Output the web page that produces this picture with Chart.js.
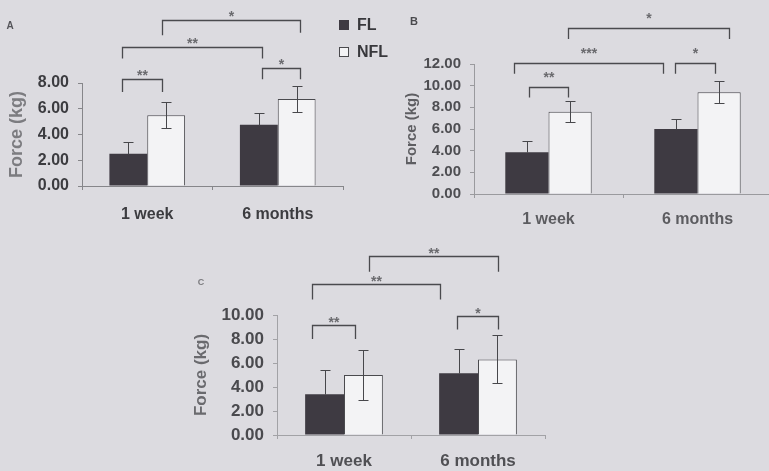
<!DOCTYPE html>
<html>
<head>
<meta charset="utf-8">
<script src="https://cdn.jsdelivr.net/npm/chart.js@4.4.1/dist/chart.umd.min.js"></script>
<style>
  html, body { margin: 0; padding: 0; overflow: hidden; background: #dcdbe0; }
  #wrap { position: relative; width: 769px; height: 471px; overflow: hidden; }
  canvas { position: absolute; }
</style>
</head>
<body>
<div id="wrap">
  <canvas id="chartA" width="410" height="240" style="left:0;top:0"></canvas>
  <canvas id="chartB" width="400" height="240" style="left:380px;top:0"></canvas>
  <canvas id="chartC" width="380" height="231" style="left:180px;top:240px"></canvas>
</div>
<script>
const groups = ['1 week', '6 months'];
const seriesNames = ['FL', 'NFL'];

// A
const flA = [2.5, 4.75];
const nflA = [5.5, 6.75];
const flErrA = [0.9, 0.95];
const nflErrA = [1.0, 1.0];

// B
const flB = [3.85, 6.0];
const nflB = [7.6, 9.4];
const flErrB = [1.0, 0.95];
const nflErrB = [0.95, 1.0];

// C
const flC = [3.4, 5.15];
const nflC = [5.0, 6.3];
const flErrC = [2.0, 2.0];
const nflErrC = [2.05, 2.0];

// significance brackets: ends in category units, heights in kg
const bracketsA = [
  { from: -0.19, to: 0.11, top: 8.3, endL: 7.3, endR: 7.3, label: '**' },
  { from: 0.88, to: 1.17, top: 9.2, endL: 8.3, endR: 8.3, label: '*' },
  { from: -0.19, to: 0.88, top: 10.8, endL: 9.9, endR: 9.9, label: '**' },
  { from: 0.11, to: 1.17, top: 12.9, endL: 11.7, endR: 11.9, label: '*' }
];
const bracketsB = [
  { from: -0.13, to: 0.13, top: 9.9, endL: 8.9, endR: 8.9, label: '**' },
  { from: -0.23, to: 0.77, top: 12.1, endL: 11.1, endR: 11.1, label: '***' },
  { from: 0.85, to: 1.12, top: 12.1, endL: 11.1, endR: 11.1, label: '*' },
  { from: 0.13, to: 1.21, top: 15.3, endL: 14.3, endR: 14.3, label: '*' }
];
const bracketsC = [
  { from: -0.24, to: 0.08, top: 9.2, endL: 8.0, endR: 8.0, label: '**' },
  { from: 0.84, to: 1.15, top: 9.9, endL: 8.8, endR: 8.8, label: '*' },
  { from: -0.24, to: 0.72, top: 12.6, endL: 11.3, endR: 11.3, label: '**' },
  { from: 0.19, to: 1.15, top: 14.9, endL: 13.6, endR: 13.6, label: '**' }
];

const FONT = "'Liberation Sans', Arial, sans-serif";
const px = v => Math.round(v) + 0.5;

// whiskers; on the dark bars the lower half disappears into the fill
const errorBars = {
  id: 'errorBars',
  afterDatasetsDraw(chart, args, opts) {
    const ctx = chart.ctx, y = chart.scales.y;
    chart.data.datasets.forEach((ds, di) => {
      chart.getDatasetMeta(di).data.forEach((bar, i) => {
        const v = ds.data[i], e = ds.errors[i];
        const top = px(y.getPixelForValue(v + e));
        const bot = ds.upperOnly ? px(y.getPixelForValue(v)) : px(y.getPixelForValue(v - e));
        const x = px(bar.x), c = opts.cap / 2;
        ctx.save();
        ctx.strokeStyle = opts.color;
        ctx.lineWidth = 1;
        ctx.beginPath();
        ctx.moveTo(x, top); ctx.lineTo(x, bot);
        ctx.moveTo(x - c, top); ctx.lineTo(x + c, top);
        if (!ds.upperOnly) { ctx.moveTo(x - c, bot); ctx.lineTo(x + c, bot); }
        ctx.stroke();
        ctx.restore();
      });
    });
  }
};

const brackets = {
  id: 'brackets',
  afterDraw(chart, args, opts) {
    const ctx = chart.ctx, x = chart.scales.x, y = chart.scales.y;
    ctx.save();
    ctx.strokeStyle = opts.color;
    ctx.lineWidth = opts.width;
    ctx.fillStyle = opts.textColor;
    ctx.font = opts.font;
    ctx.textAlign = 'center';
    ctx.textBaseline = 'middle';
    opts.items.forEach(b => {
      const x1 = px(x.getPixelForValue(b.from)), x2 = px(x.getPixelForValue(b.to));
      const yt = px(y.getPixelForValue(b.top));
      ctx.beginPath();
      ctx.moveTo(x1, y.getPixelForValue(b.endL));
      ctx.lineTo(x1, yt);
      ctx.lineTo(x2, yt);
      ctx.lineTo(x2, y.getPixelForValue(b.endR));
      ctx.stroke();
      ctx.fillText(b.label, (x1 + x2) / 2, yt - opts.gap);
    });
    ctx.restore();
  }
};

const boxLegend = {
  id: 'boxLegend',
  afterDraw(chart, args, opts) {
    if (!opts.show) return;
    const ctx = chart.ctx;
    ctx.save();
    ctx.font = opts.font;
    ctx.textBaseline = 'middle';
    chart.data.datasets.forEach((ds, i) => {
      const yy = opts.y + i * opts.step;
      ctx.fillStyle = ds.backgroundColor;
      ctx.fillRect(opts.x, yy - opts.box / 2, opts.box, opts.box);
      ctx.strokeStyle = ds.borderWidth ? ds.borderColor : ds.backgroundColor;
      ctx.lineWidth = 1;
      ctx.strokeRect(opts.x + 0.5, yy - opts.box / 2 + 0.5, opts.box - 1, opts.box - 1);
      ctx.fillStyle = opts.color;
      ctx.fillText(ds.label, opts.x + opts.box + 8, yy + 1);
    });
    ctx.restore();
  }
};

const panelTag = {
  id: 'panelTag',
  afterDraw(chart, args, opts) {
    const ctx = chart.ctx;
    ctx.save();
    ctx.font = opts.font;
    ctx.fillStyle = opts.color;
    ctx.textAlign = 'center';
    ctx.textBaseline = 'middle';
    ctx.fillText(opts.text, opts.x, opts.y);
    ctx.restore();
  }
};

function makePanel(id, fl, nfl, flErr, nflErr, items, s) {
  return new Chart(document.getElementById(id), {
    type: 'bar',
    data: {
      labels: groups,
      datasets: [
        { label: seriesNames[0], data: fl, errors: flErr, upperOnly: true, backgroundColor: '#3e3a42', borderWidth: 0 },
        { label: seriesNames[1], data: nfl, errors: nflErr, backgroundColor: '#f3f3f5', borderColor: '#4a4a4e', borderWidth: 1 }
      ]
    },
    options: {
      responsive: false,
      animation: false,
      layout: { padding: { top: s.top, right: s.right, left: 0, bottom: 0 } },
      datasets: { bar: { categoryPercentage: 0.58, barPercentage: 1 } },
      scales: {
        x: {
          offset: true,
          grid: { display: true, drawOnChartArea: false, drawTicks: true, tickLength: 4, offset: true, color: s.axis },
          border: { display: true, color: s.axis },
          ticks: { color: s.xColor, font: { family: FONT, size: s.xSize, weight: 'bold' }, padding: s.xPad },
          afterFit(sc) { sc.height = s.xH; }
        },
        y: {
          min: 0,
          max: s.max,
          grid: { drawOnChartArea: false, tickLength: 4, color: s.axis },
          border: { color: s.axis },
          ticks: {
            stepSize: 2,
            padding: 9,
            color: s.yColor,
            font: { family: FONT, size: s.ySize, weight: 'bold' },
            callback: v => v.toFixed(2)
          },
          title: {
            display: true,
            text: 'Force (kg)',
            color: s.titleColor,
            font: { family: FONT, size: s.titleSize, weight: 'bold' },
            padding: { top: s.titlePad, bottom: 0 }
          },
          afterFit(sc) { sc.width = s.yW; }
        }
      },
      plugins: {
        legend: { display: false },
        tooltip: { enabled: false },
        errorBars: { color: '#47474b', cap: 10 },
        brackets: {
          items: items,
          color: '#4a4a4e',
          width: 1.3,
          textColor: '#6a6a6e',
          font: `bold 14px ${FONT}`,
          gap: s.starGap
        },
        boxLegend: s.legend || { show: false },
        panelTag: s.tag
      }
    },
    plugins: [errorBars, brackets, boxLegend, panelTag]
  });
}

makePanel('chartA', flA, nflA, flErrA, nflErrA, bracketsA, {
  top: 83, right: 67, yW: 82, xH: 54, max: 8,
  axis: '#86868a', xColor: '#3c3c40', yColor: '#3c3c40', xSize: 16, ySize: 16, xPad: 15,
  titleColor: '#7c7c80', titleSize: 18, titlePad: 6, starGap: 3,
  legend: { show: true, x: 339, y: 25, step: 27, box: 10, color: '#38383c', font: `bold 16px ${FONT}` },
  tag: { text: 'A', x: 10, y: 26, font: `bold 10px ${FONT}`, color: '#55555a' }
});

makePanel('chartB', flB, nflB, flErrB, nflErrB, bracketsB, {
  top: 64, right: 8, yW: 94, xH: 46, max: 12,
  axis: '#9a9a9e', xColor: '#5c5c60', yColor: '#4e4e52', xSize: 16, ySize: 15, xPad: 12,
  titleColor: '#5e5e62', titleSize: 15, titlePad: 23, starGap: 9,
  tag: { text: 'B', x: 34, y: 22, font: `bold 11px ${FONT}`, color: '#4a4a4e' }
});

makePanel('chartC', flC, nflC, flErrC, nflErrC, bracketsC, {
  top: 75, right: 15, yW: 97, xH: 36, max: 10,
  axis: '#a2a2a6', xColor: '#505054', yColor: '#4a4a4e', xSize: 17, ySize: 17, xPad: 12,
  titleColor: '#6a6a6e', titleSize: 17, titlePad: 11, starGap: 2,
  tag: { text: 'C', x: 21, y: 43, font: `bold 9px ${FONT}`, color: '#7a7a7e' }
});
</script>
</body>
</html>
